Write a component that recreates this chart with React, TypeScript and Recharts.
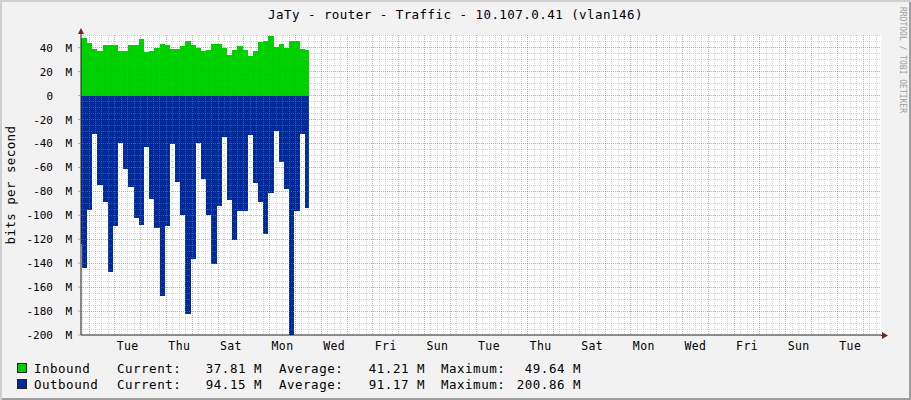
import { ComposedChart, Area, XAxis, YAxis, CartesianGrid } from "recharts";

// hours since the left edge of the graph (31 days = 744 h across 800 px)
const hours = [
  0, 1.2, 5.6, 10.42, 15.24, 20.06, 24.88, 29.7, 34.52, 39.34, 44.16, 48.98,
  53.8, 58.62, 63.44, 68.26, 73.08, 77.9, 82.72, 87.54, 92.36, 97.18, 102,
  106.82, 111.64, 116.46, 121.28, 126.1, 130.92, 135.74, 140.56, 145.38, 150.2,
  155.02, 159.84, 164.66, 169.48, 174.3, 179.12, 183.94, 188.76, 193.58, 198.4,
  203.22, 208.04, 212,
];

// Mbit/s
const inbound = [
  48.1, 48.1, 44.2, 38.9, 37.5, 42.3, 42.3, 42.3, 37.5, 37.5, 42.3, 42.3, 47.3,
  36.7, 37.5, 39.8, 43.1, 42.3, 38.9, 38.9, 41.4, 45.6, 42.3, 39.8, 37.5, 38.1,
  43.1, 43.1, 39.8, 33.9, 38.1, 41.4, 38.1, 33.3, 37.3, 44.8, 45.6, 49.6, 40.6,
  43.1, 39.8, 45.6, 45.6, 38.9, 37.8, 37.8,
];

const outbound = [
  -124.4, -144.4, -95.2, -31.9, -75, -89.2, -147.5, -109.2, -39.7, -61.4, -76.6,
  -102.5, -108.3, -43.3, -86.1, -110.5, -167.5, -109.2, -40.3, -72.2, -99.4,
  -182.7, -136.9, -39.7, -69.4, -100, -141.1, -92.5, -35, -86.9, -120.3, -96.1,
  -96.7, -32.8, -73, -88.6, -115.3, -81.4, -30, -55.8, -77.8, -200.9, -96.1,
  -31.9, -94.2, -94.2,
];

const dayLabels = [
  "Tue", "Thu", "Sat", "Mon", "Wed", "Fri", "Sun", "Tue",
  "Thu", "Sat", "Mon", "Wed", "Fri", "Sun", "Tue",
];
const yTicks = [-200, -180, -160, -140, -120, -100, -80, -60, -40, -20, 0, 20, 40];

const legendNames = ["Inbound", "Outbound"];
const legendColors = ["#00CF00", "#002A97"];
const currentVals = ["37.81 M", "94.15 M"];
const averageVals = ["41.21 M", "91.17 M"];
const maximumVals = ["49.64 M", "200.86 M"];

const SPAN = 744;
const MIDNIGHT = 7.44; // first day boundary after the left edge
const labelHours = dayLabels.map((_, i) => MIDNIGHT + 36 + i * 48);

const majorX: number[] = [];
for (let t = MIDNIGHT; t < SPAN; t += 24) majorX.push(t);
const minorX: number[] = [];
for (let t = MIDNIGHT - 6; t < SPAN; t += 6) {
  if (Math.abs(((t - MIDNIGHT) % 24 + 24) % 24) > 0.01) minorX.push(t);
}
const majorY = yTicks.filter((v) => v > -200);
const minorY: number[] = [];
for (let v = -195; v <= 50; v += 5) if (v % 20 !== 0) minorY.push(v);

const MONO = "'DejaVu Sans Mono', monospace";
const GRID = "rgba(143,143,143,0.38)";
const MGRID = "rgba(222,79,79,0.55)";

function YTick({ x, y, payload }: any) {
  const v = payload.value;
  return (
    <g fontFamily={MONO} fontSize={11} fill="#000">
      <text x={x - 19} y={y} dy={4} textAnchor="end">
        {v}
      </text>
      {v !== 0 && (
        <text x={x} y={y} dy={4} textAnchor="end">
          M
        </text>
      )}
    </g>
  );
}

export default function App() {
  const data = hours.map((t, i) => ({ t, inbound: inbound[i], outbound: outbound[i] }));
  const legendY = [373, 389];

  return (
    <div
      style={{
        position: "absolute",
        left: 0,
        top: 0,
        width: 911,
        height: 400,
        background: "#F2F2F2",
        boxShadow: "inset 2px 2px 0 #CFCFCF, inset -2px -2px 0 #9E9E9E",
      }}
    >
      <style>{`.recharts-cartesian-grid line, .recharts-area-area { shape-rendering: crispEdges; }`}</style>
      <div style={{ position: "absolute", left: 81, top: 35, width: 800, height: 300, background: "#fff" }} />
      <div style={{ position: "absolute", left: 0, top: 0 }}>
        <ComposedChart width={911} height={400} data={data} margin={{ top: 35, right: 30, bottom: 45, left: 0 }}>
          <XAxis
            dataKey="t"
            type="number"
            domain={[0, SPAN]}
            ticks={labelHours}
            tickFormatter={(_v: number, i: number) => dayLabels[i]}
            interval={0}
            height={20}
            tickLine={false}
            tickSize={5}
            axisLine={{ stroke: "#1F1F1F" }}
            tick={{ fontFamily: MONO, fontSize: 11.5, fill: "#000", letterSpacing: 0.4 }}
            allowDataOverflow
          />
          <YAxis
            type="number"
            domain={[-200, 50.6]}
            ticks={yTicks}
            interval={0}
            width={81}
            tickSize={3}
            tickMargin={6}
            tickLine={{ stroke: MGRID }}
            axisLine={{ stroke: "#1F1F1F" }}
            tick={<YTick />}
            allowDataOverflow
          />
          <Area
            type="stepAfter"
            dataKey="inbound"
            fill="#00CF00"
            fillOpacity={1}
            stroke="none"
            baseValue={0}
            isAnimationActive={false}
          />
          <Area
            type="stepAfter"
            dataKey="outbound"
            fill="#002A97"
            fillOpacity={1}
            stroke="none"
            baseValue={0}
            isAnimationActive={false}
          />
          <CartesianGrid
            {...({ zIndex: 200 } as any)}
            horizontalValues={minorY}
            verticalValues={minorX}
            stroke={GRID}
            strokeDasharray="1 1"
          />
          <CartesianGrid
            {...({ zIndex: 201 } as any)}
            horizontalValues={majorY}
            verticalValues={majorX}
            stroke={MGRID}
            strokeDasharray="1 1"
          />
        </ComposedChart>
      </div>
      <svg
        width={911}
        height={400}
        style={{ position: "absolute", left: 0, top: 0, pointerEvents: "none" }}
      >
        <text x={455.5} y={19} textAnchor="middle" fontFamily={MONO} fontSize={12.5} letterSpacing={0.45} fill="#000">
          JaTy - router - Traffic - 10.107.0.41 (vlan146)
        </text>
        <text
          transform="translate(15,185) rotate(-90)"
          textAnchor="middle"
          fontFamily={MONO}
          fontSize={12.5}
          letterSpacing={0.4}
          fill="#000"
        >
          bits per second
        </text>
        <text
          transform="translate(900,60) rotate(90)"
          textAnchor="middle"
          fontFamily={MONO}
          fontSize={8}
          fill="#9E9E9E"
        >
          RRDTOOL / TOBI OETIKER
        </text>
        {/* axis arrows */}
        <line x1={81} y1={35} x2={81} y2={31} stroke="#1F1F1F" />
        <polygon points="78,34 84,34 81,28" fill="#801F1F" />
        <line x1={881} y1={335.5} x2={884} y2={335.5} stroke="#1F1F1F" />
        <polygon points="882,332 882,339 888,335.5" fill="#801F1F" />
        {/* legend */}
        {legendNames.map((name, i) => (
          <g key={name} fontFamily={MONO} fontSize={12.5} letterSpacing={0.5} fill="#000">
            <rect x={17.5} y={legendY[i] - 9.5} width={9} height={9} fill={legendColors[i]} stroke="#1F1F1F" />
            <text x={34} y={legendY[i]}>{name}</text>
            <text x={117} y={legendY[i]}>Current:</text>
            <text x={262} y={legendY[i]} textAnchor="end">{currentVals[i]}</text>
            <text x={279} y={legendY[i]}>Average:</text>
            <text x={425} y={legendY[i]} textAnchor="end">{averageVals[i]}</text>
            <text x={441} y={legendY[i]}>Maximum:</text>
            <text x={581} y={legendY[i]} textAnchor="end">{maximumVals[i]}</text>
          </g>
        ))}
      </svg>
    </div>
  );
}
